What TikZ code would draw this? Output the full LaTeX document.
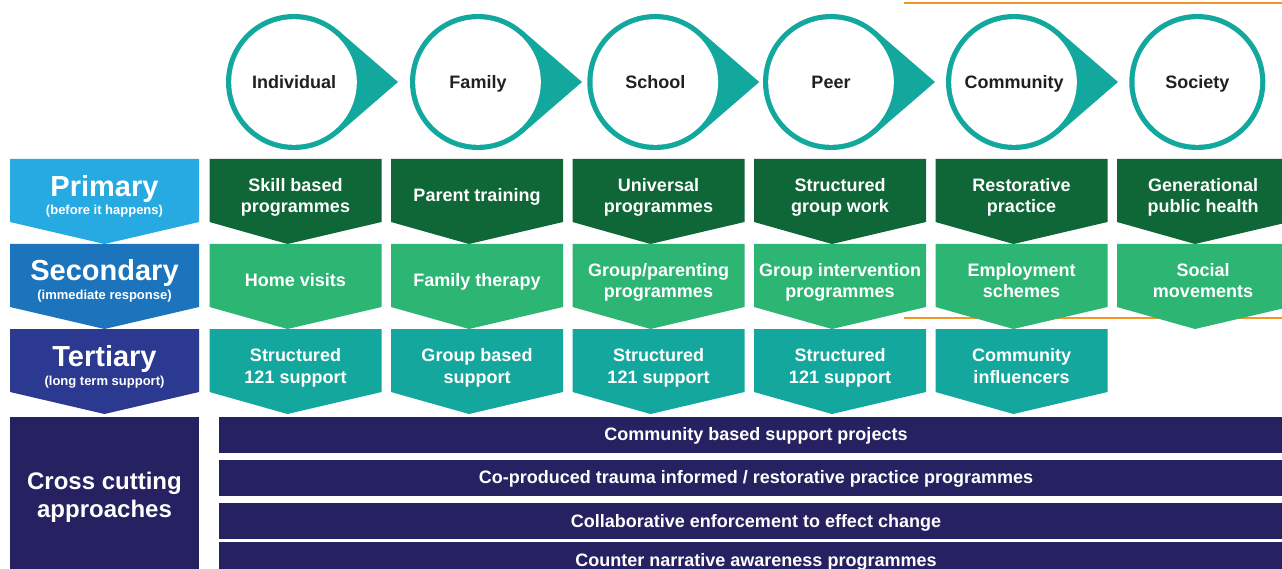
\documentclass[tikz,border=0pt]{standalone}
\usepackage{fontspec}
\setmainfont{Liberation Sans}
\definecolor{ringteal}{HTML}{13A89E}
\definecolor{primblue}{HTML}{27AAE1}
\definecolor{secblue}{HTML}{1C75BC}
\definecolor{terblue}{HTML}{2B3990}
\definecolor{darkgreen}{HTML}{0F6636}
\definecolor{midgreen}{HTML}{2DB574}
\definecolor{tealrow}{HTML}{13A79D}
\definecolor{navybar}{HTML}{262262}
\definecolor{ruleorange}{RGB}{243,150,40}
\definecolor{darktext}{HTML}{231F20}
\newcommand\mychev[3]{\fill[#3] (#1,#2) -- ({#1+172},#2) -- ({#1+172},{#2+63}) -- ({#1+78},{#2+85}) -- (#1,{#2+63}) -- cycle;}
\newcommand\mylabchev[2]{\fill[#2] (10,#1) -- (199,#1) -- (199,{#1+63}) -- (104.5,{#1+85}) -- (10,{#1+63}) -- cycle;}
\newcommand\myring[1]{\fill[ringteal] (#1,82) circle[radius=68pt];\fill[white] (#1,82) circle[radius=62.8pt];}
\newcommand\mydrop[1]{\fill[ringteal] ({#1+104},82) -- ({#1+44.46},{82-51.46}) -- (#1,82) -- ({#1+44.46},{82+51.46}) -- cycle;\myring{#1}}
\begin{document}
\begin{tikzpicture}[x=1pt,y=-1pt,
  txt/.style={text=white,font=\bfseries\fontsize{18}{21}\selectfont,inner sep=0pt,anchor=base},
  headtxt/.style={text=white,font=\bfseries\fontsize{29}{32}\selectfont,inner sep=0pt,anchor=base},
  captxt/.style={text=white,font=\bfseries\fontsize{13}{15}\selectfont,inner sep=0pt,anchor=base},
  crosstxt/.style={text=white,font=\bfseries\fontsize{24}{28}\selectfont,inner sep=0pt,anchor=base},
  circtxt/.style={text=darktext,font=\bfseries\fontsize{18}{21}\selectfont,inner sep=0pt,anchor=base},
  orangerule/.style={line width=2pt}]
\useasboundingbox (0,0) rectangle (1282,569);
\clip (0,0) rectangle (1282,569);
\fill[white] (0,0) rectangle (1282,569);
% orange rules
\coordinate (o1a) at (904,3.5); \coordinate (o1b) at (1290,3.5);
\coordinate (o2a) at (904,317.5); \coordinate (o2b) at (1290,317.5);
\draw[orangerule,ruleorange] (o1a) -- (o1b);
\draw[orangerule,ruleorange] (o2a) -- (o2b);
% circles
\mydrop{294}\mydrop{478}\mydrop{655.3}\mydrop{831}\mydrop{1014}\myring{1197.3}
\node[circtxt] (cind) at (294,89) {Individual};
\node[circtxt] (cfam) at (478,89) {Family};
\node[circtxt] (csch) at (655.3,89) {School};
\node[circtxt] (cpeer) at (831,89) {Peer};
\node[circtxt] (ccom) at (1014,89) {Community};
\node[circtxt] (csoc) at (1197.3,89) {Society};
% left labels
\mylabchev{159}{primblue}
\mylabchev{244}{secblue}
\mylabchev{329}{terblue}
\node[headtxt] (lprim) at (104.5,197) {Primary};
\node[captxt] (lprimc) at (104.5,215) {(before it happens)};
\node[headtxt] (lsec) at (104.5,281) {Secondary};
\node[captxt] (lsecc) at (104.5,300) {(immediate response)};
\node[headtxt] (lter) at (104.5,366) {Tertiary};
\node[captxt] (lterc) at (104.5,385) {(long term support)};
% row 1
\mychev{209.5}{159}{darkgreen}\mychev{391}{159}{darkgreen}\mychev{572.5}{159}{darkgreen}
\mychev{754}{159}{darkgreen}\mychev{935.5}{159}{darkgreen}\mychev{1117}{159}{darkgreen}
% row 2
\mychev{209.5}{244}{midgreen}\mychev{391}{244}{midgreen}\mychev{572.5}{244}{midgreen}
\mychev{754}{244}{midgreen}\mychev{935.5}{244}{midgreen}\mychev{1117}{244}{midgreen}
% row 3
\mychev{209.5}{329}{tealrow}\mychev{391}{329}{tealrow}\mychev{572.5}{329}{tealrow}
\mychev{754}{329}{tealrow}\mychev{935.5}{329}{tealrow}
% row 1 texts
\node[txt] (p1a) at (295.5,192) {Skill based};
\node[txt] (p1b) at (295.5,213) {programmes};
\node[txt] (p2) at (477,202) {Parent training};
\node[txt] (p3a) at (658.5,192) {Universal};
\node[txt] (p3b) at (658.5,213) {programmes};
\node[txt] (p4a) at (840,192) {Structured};
\node[txt] (p4b) at (840,213) {group work};
\node[txt] (p5a) at (1021.5,192) {Restorative};
\node[txt] (p5b) at (1021.5,213) {practice};
\node[txt] (p6a) at (1203,192) {Generational};
\node[txt] (p6b) at (1203,213) {public health};
% row 2 texts
\node[txt] (s1) at (295.5,287) {Home visits};
\node[txt] (s2) at (477,287) {Family therapy};
\node[txt] (s3a) at (658.5,277) {Group/parenting};
\node[txt] (s3b) at (658.5,298) {programmes};
\node[txt] (s4a) at (840,277) {Group intervention};
\node[txt] (s4b) at (840,298) {programmes};
\node[txt] (s5a) at (1021.5,277) {Employment};
\node[txt] (s5b) at (1021.5,298) {schemes};
\node[txt] (s6a) at (1203,277) {Social};
\node[txt] (s6b) at (1203,298) {movements};
% row 3 texts
\node[txt] (t1a) at (295.5,361.5) {Structured};
\node[txt] (t1b) at (295.5,383) {121 support};
\node[txt] (t2a) at (477,361.5) {Group based};
\node[txt] (t2b) at (477,383) {support};
\node[txt] (t3a) at (658.5,361.5) {Structured};
\node[txt] (t3b) at (658.5,383) {121 support};
\node[txt] (t4a) at (840,361.5) {Structured};
\node[txt] (t4b) at (840,383) {121 support};
\node[txt] (t5a) at (1021.5,361.5) {Community};
\node[txt] (t5b) at (1021.5,383) {influencers};
% cross cutting
\fill[navybar] (10,417) rectangle (199,580);
\fill[navybar] (219,417) rectangle (1295,452.7);
\fill[navybar] (219,460) rectangle (1295,495.7);
\fill[navybar] (219,503) rectangle (1295,538.7);
\fill[navybar] (219,542) rectangle (1295,580);
\node[crosstxt] (xa) at (104.5,489) {Cross cutting};
\node[crosstxt] (xb) at (104.5,517) {approaches};
\node[txt] (b1) at (756,440) {Community based support projects};
\node[txt] (b2) at (756,483) {Co-produced trauma informed / restorative practice programmes};
\node[txt] (b3) at (756,527) {Collaborative enforcement to effect change};
\node[txt] (b4) at (756,566.5) {Counter narrative awareness programmes};
\end{tikzpicture}
\end{document}
